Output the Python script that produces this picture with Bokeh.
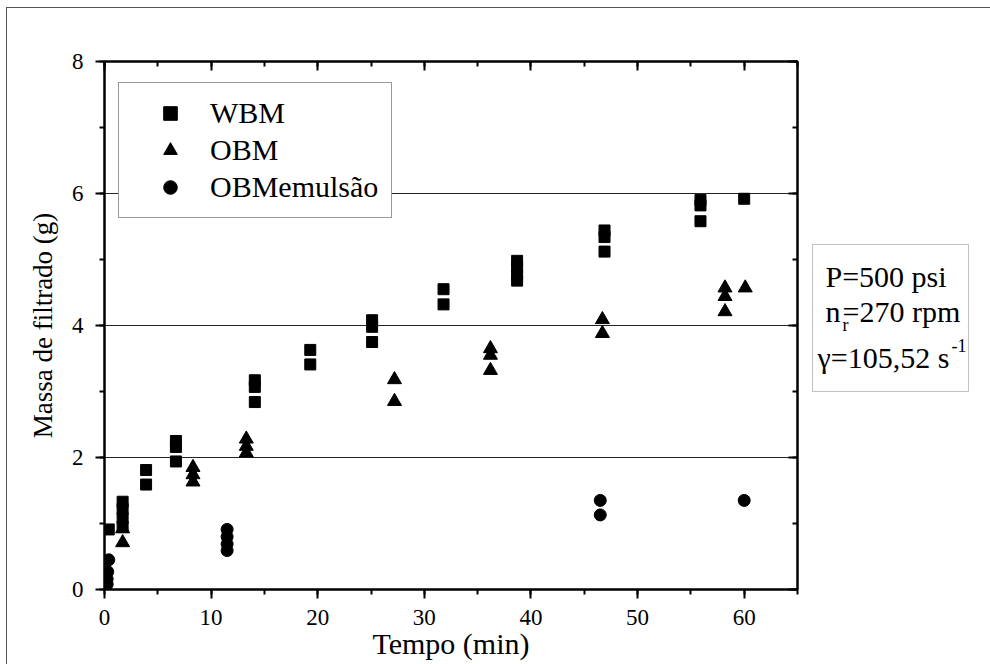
from bokeh.plotting import figure
from bokeh.layouts import row
from bokeh.models import (LinearAxis, Range1d, Legend, LegendItem, Label, BoxAnnotation,
                          SingleIntervalTicker)
from bokeh.embed import file_html
from bokeh.resources import INLINE

# ---- data ----
wbm_t = [0.4, 1.7, 1.7, 1.7, 1.7, 3.9, 3.9, 6.7, 6.7, 6.7, 14.1, 14.1, 14.1, 19.3, 19.3,
         25.1, 25.1, 25.1, 31.8, 31.8, 38.7, 38.7, 38.7, 38.7, 46.9, 46.9, 46.9,
         55.9, 55.9, 55.9, 60.0]
wbm_m = [0.91, 1.33, 1.22, 1.08, 0.95, 1.81, 1.59, 2.25, 2.16, 1.94, 3.17, 3.07, 2.84, 3.63, 3.41,
         4.08, 3.98, 3.75, 4.55, 4.32, 4.98, 4.88, 4.77, 4.68, 5.44, 5.34, 5.12,
         5.90, 5.82, 5.58, 5.92]

obm_t = [1.7, 1.7, 8.3, 8.3, 8.3, 13.3, 13.3, 13.3, 27.2, 27.2, 36.2, 36.2, 36.2,
         46.7, 46.7, 58.2, 58.2, 58.2, 60.1]
obm_m = [0.92, 0.71, 1.85, 1.74, 1.63, 2.28, 2.17, 2.07, 3.18, 2.85, 3.65, 3.55, 3.32,
         4.09, 3.88, 4.57, 4.44, 4.21, 4.57]

emu_t = [0.4, 0.3, 0.25, 0.25, 11.5, 11.5, 11.5, 11.5, 46.5, 46.5, 60.0]
emu_m = [0.45, 0.27, 0.16, 0.08, 0.91, 0.80, 0.69, 0.59, 1.35, 1.13, 1.35]

series_names = ["WBM", "OBM", "OBMemulsão"]
x_tick_step = 10
y_tick_step = 2
conditions = ["P=500 psi", "n", "r", "=270 rpm", "γ=105,52 s", "-1"]

FONT = "Liberation Serif"
H = 656
BT, BB = 53, 75

p = figure(width=796, height=H, output_backend="svg", toolbar_location=None,
           x_range=Range1d(0, 65), y_range=Range1d(0, 8),
           min_border_left=97, min_border_right=6, min_border_top=BT, min_border_bottom=BB,
           x_axis_label="Tempo (min)", y_axis_label="Massa de filtrado (g)")
p.outline_line_color = "black"
p.outline_line_width = 2
p.background_fill_color = "white"
p.border_fill_color = "white"

for ax in (p.xaxis[0], p.yaxis[0]):
    ax.axis_line_width = 2
    ax.major_tick_line_width = 2
    ax.minor_tick_line_width = 2
    ax.major_tick_out = 9
    ax.major_tick_in = 0
    ax.minor_tick_out = 5
    ax.minor_tick_in = 0
    ax.major_label_text_font = FONT
    ax.major_label_text_font_size = "23px"
    ax.major_label_text_color = "black"
    ax.axis_label_text_font = FONT
    ax.axis_label_text_font_style = "normal"
    ax.axis_label_text_color = "black"

p.xaxis[0].ticker = SingleIntervalTicker(interval=x_tick_step, num_minor_ticks=2)
p.yaxis[0].ticker = SingleIntervalTicker(interval=y_tick_step, num_minor_ticks=2)
p.xaxis[0].axis_label_text_font_size = "30px"
p.yaxis[0].axis_label_text_font_size = "27px"
p.xaxis[0].major_label_standoff = 11
p.xaxis[0].axis_label_standoff = -1
p.yaxis[0].major_label_standoff = 12
p.yaxis[0].axis_label_standoff = 11

top = LinearAxis(ticker=SingleIntervalTicker(interval=x_tick_step, num_minor_ticks=2),
                 major_label_text_font_size="1px", major_label_text_color=None,
                 major_tick_in=9, major_tick_out=0,
                 minor_tick_in=5, minor_tick_out=0, axis_line_width=2,
                 major_tick_line_width=2, minor_tick_line_width=2, major_label_standoff=0)
right = LinearAxis(ticker=SingleIntervalTicker(interval=y_tick_step, num_minor_ticks=2),
                   major_label_text_font_size="1px", major_label_text_color=None,
                   major_tick_in=9, major_tick_out=0,
                   minor_tick_in=5, minor_tick_out=0, axis_line_width=2,
                   major_tick_line_width=2, minor_tick_line_width=2, major_label_standoff=0)
p.add_layout(top, "above")
p.add_layout(right, "right")

p.xgrid.visible = False
p.ygrid[0].ticker = SingleIntervalTicker(interval=y_tick_step)
p.ygrid.grid_line_color = "#222222"
p.ygrid.grid_line_width = 1

r1 = p.scatter(wbm_t, wbm_m, marker="square", size=11, fill_color="black", line_color="black")
r2 = p.scatter(obm_t, obm_m, marker="triangle", size=14, fill_color="black", line_color="black")
r3 = p.scatter(emu_t, emu_m, marker="circle", size=12, fill_color="black", line_color="black")

legend = Legend(items=[LegendItem(label=series_names[0], renderers=[r1]),
                       LegendItem(label=series_names[1], renderers=[r2]),
                       LegendItem(label=series_names[2], renderers=[r3])],
                location=(14, 371), padding=13, spacing=3,
                glyph_width=76, glyph_height=34, label_height=34, label_standoff=2,
                label_text_font=FONT, label_text_font_size="30px", label_text_color="black",
                border_line_color="#333333", border_line_width=1,
                background_fill_color="white", background_fill_alpha=1)
p.add_layout(legend, "center")

# ---- side panel with the test conditions box (coordinates = page pixels) ----
q = figure(width=187, height=H, output_backend="svg", toolbar_location=None,
           x_range=Range1d(803, 990), y_range=Range1d(589, 61),
           x_axis_type=None, y_axis_type=None,
           min_border_left=0, min_border_right=0, min_border_top=BT, min_border_bottom=BB)
q.grid.visible = False
q.outline_line_color = None
q.background_fill_color = "white"
q.border_fill_color = "white"

q.add_layout(BoxAnnotation(left=812, right=968, top=244, bottom=391,
                           fill_color="white", fill_alpha=1,
                           line_color="#333333", line_width=1))

def lab(x, y, text, size):
    q.add_layout(Label(x=x, y=y, text=text,
                       text_font=FONT, text_font_size=size, text_color="black",
                       text_baseline="alphabetic", text_align="left"))

lab(825, 276, conditions[0], "30px")
lab(825, 311, conditions[1], "30px")
lab(842, 324, conditions[2], "18px")
lab(842, 311, conditions[3], "30px")
lab(817, 357, conditions[4], "30px")
lab(951, 345, conditions[5], "18px")

layout = row(p, q)
layout.styles = {"margin-left": "6px", "margin-top": "7px",
                 "border-left": "1px solid #555", "border-top": "1px solid #555"}

open("out.html", "w").write(file_html(layout, INLINE))
